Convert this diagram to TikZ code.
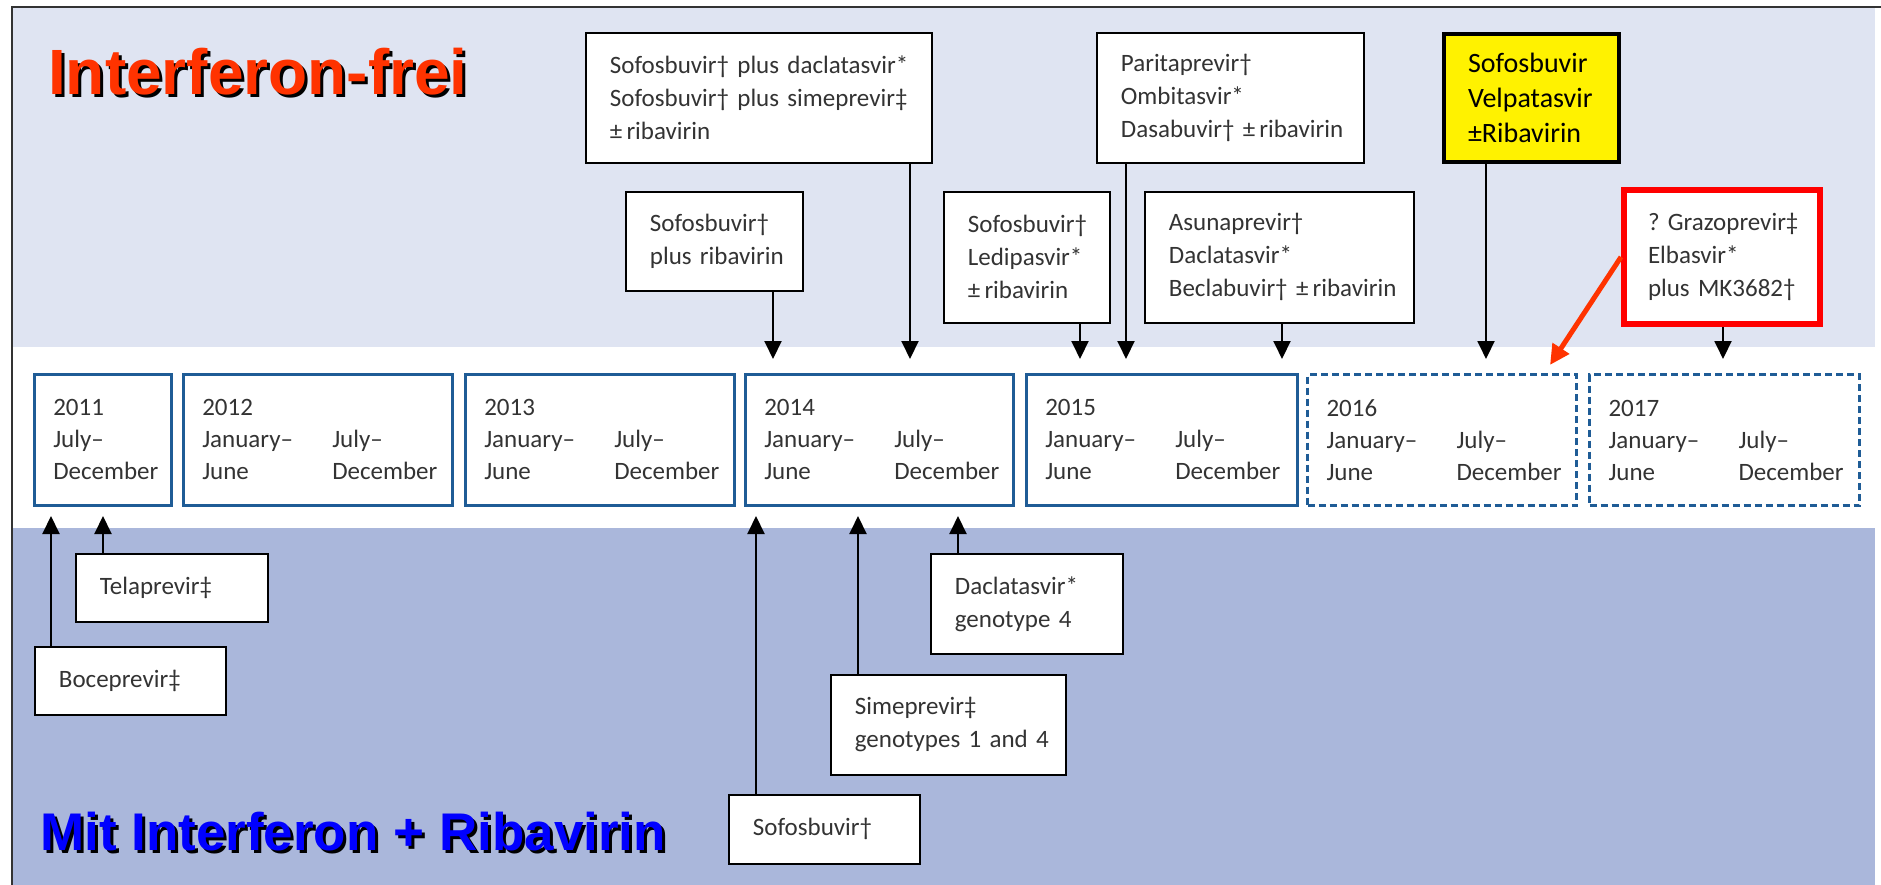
\documentclass[tikz,border=0pt]{standalone}
\usepackage{fontspec}
\setmainfont{Carlito}
\newfontfamily\headfont{Liberation Sans}
\usepackage{xcolor}
\usetikzlibrary{arrows.meta}

\definecolor{topband}{HTML}{DFE4F2}
\definecolor{lowband}{HTML}{AAB7DB}
\definecolor{yearblue}{HTML}{1F5C96}
\definecolor{drugtext}{HTML}{333333}
\definecolor{headred}{HTML}{FF3300}
\definecolor{headblue}{HTML}{0000FF}

\newcommand{\twocol}[2]{\makebox[130pt][l]{#1}#2}

\begin{document}
\begin{tikzpicture}[x=1pt, y=-1pt,
	drug/.style={draw=black, fill=white, line width=1.8pt, anchor=north west, align=left, inner xsep=24pt, inner ysep=0pt, text=drugtext, font=\fontsize{25}{33}\selectfont, execute at begin node={\hyphenpenalty=10000\relax}},
	year/.style={draw=yearblue, line width=2.5pt, anchor=north west, align=left, inner xsep=19pt, inner ysep=0pt, minimum height=131pt, text=drugtext, font=\fontsize{25}{32}\selectfont},
	future/.style={year, dash pattern=on 7pt off 4pt, line width=3pt},
	arr/.style={line width=2pt, -{Triangle[width=17pt, length=18pt]}},
	head/.style={anchor=base west, inner sep=0pt, font=\headfont\bfseries\fontsize{#1}{#1}\selectfont},
	]
	\useasboundingbox (0, 0) rectangle (1881, 885);
	% Bands:
	\fill[topband] (12, 7) rectangle (1875, 347);
	\fill[lowband] (12, 528) rectangle (1875, 885);
	\draw[line width=1.5pt, black!80] (12, 885) |- (1881, 7);
	\node[head=64, text=black] (Head1s) at (51, 98) {Interferon-frei};
	\node[head=64, text=headred] (Head1) at (48, 95) {Interferon-frei};
	\node[head=53, text=black] (Head2s) at (43, 853) {Mit Interferon + Ribavirin};
	\node[head=53, text=headblue] (Head2) at (40, 850) {Mit Interferon + Ribavirin};

	% Timeline:
	\node[year, text width=99pt] (Year1) at (33, 373) {2011\\July–\\December};
	\node[year, text width=231pt] (Year2) at (182, 373) {2012\\\twocol{January–}{July–}\\\twocol{June}{December}};
	\node[year, text width=231pt] (Year3) at (464, 373) {2013\\\twocol{January–}{July–}\\\twocol{June}{December}};
	\node[year, text width=230pt] (Year4) at (744, 373) {2014\\\twocol{January–}{July–}\\\twocol{June}{December}};
	\node[year, text width=233pt] (Year5) at (1025, 373) {2015\\\twocol{January–}{July–}\\\twocol{June}{December}};
	\node[future, text width=231pt] (Year6) at (1306, 373) {2016\\\twocol{January–}{July–}\\\twocol{June}{December}};
	\node[future, text width=232pt] (Year7) at (1588, 373) {2017\\\twocol{January–}{July–}\\\twocol{June}{December}};

	% Interferon-free boxes:
	\node[drug, text width=298pt, minimum height=130pt] (Box1) at (585, 32) {Sofosbuvir†~plus~daclatasvir*\\Sofosbuvir†~plus~simeprevir‡\\±\,ribavirin};
	\node[drug, text width=129pt, minimum height=99pt] (Box2) at (625, 191) {Sofosbuvir†\\plus~ribavirin};
	\node[drug, text width=219pt, minimum height=130pt] (Box3) at (1096, 32) {Paritaprevir†\\Ombitasvir*\\Dasabuvir†~±\,ribavirin};
	\node[drug, text width=118pt, minimum height=131pt] (Box4) at (943, 191) {Sofosbuvir†\\Ledipasvir*\\±\,ribavirin};
	\node[drug, text width=221pt, minimum height=131pt] (Box5) at (1144, 191) {Asunaprevir†\\Daclatasvir*\\Beclabuvir†~±\,ribavirin};
	\node[drug, fill=yellow, line width=4pt, text=black, text width=127pt, minimum height=128pt, font=\fontsize{28}{35}\selectfont] (Box6) at (1442, 32) {Sofosbuvir\\Velpatasvir\\±Ribavirin};
	\node[drug, draw=red, line width=6pt, text width=148pt, minimum height=134pt] (Box7) at (1621, 187) {?~Grazoprevir‡\\Elbasvir*\\plus~MK3682†};

	% Boxes with interferon + ribavirin:
	\node[drug, text width=144pt, minimum height=68pt] (Box8) at (75, 553) {Telaprevir‡};
	\node[drug, text width=143pt, minimum height=68pt] (Box9) at (34, 646) {Boceprevir‡};
	\node[drug, text width=143pt, minimum height=69pt] (Box10) at (728, 794) {Sofosbuvir†};
	\node[drug, text width=187pt, minimum height=100pt] (Box11) at (830, 674) {Simeprevir‡\\genotypes~1~and~4};
	\node[drug, text width=144pt, minimum height=100pt] (Box12) at (930, 553) {Daclatasvir*\\genotype~4};

	% Arrows:
	\coordinate (Tip1) at (910, 359);
	\coordinate (Tip2) at (773, 359);
	\coordinate (Tip3) at (1126, 359);
	\coordinate (Tip4) at (1080, 359);
	\coordinate (Tip5) at (1282, 359);
	\coordinate (Tip6) at (1486, 359);
	\coordinate (Tip7) at (1723, 359);
	\coordinate (Tip8) at (1550, 365);
	\coordinate (Tip9) at (103, 516);
	\coordinate (Tip10) at (51, 516);
	\coordinate (Tip11) at (756, 516);
	\coordinate (Tip12) at (858, 516);
	\coordinate (Tip13) at (958, 516);
	\foreach \b/\t in {1/1, 2/2, 3/3, 4/4, 5/5, 6/6, 7/7}
		\draw[arr] (Box\b.south -| Tip\t) -- (Tip\t);
	\foreach \b/\t in {8/9, 9/10, 10/11, 11/12, 12/13}
		\draw[arr] (Box\b.north -| Tip\t) -- (Tip\t);
	\draw[line width=5pt, headred, -{Triangle[width=19pt, length=20pt]}] (Box7.west) -- (Tip8);
\end{tikzpicture}
\end{document}
